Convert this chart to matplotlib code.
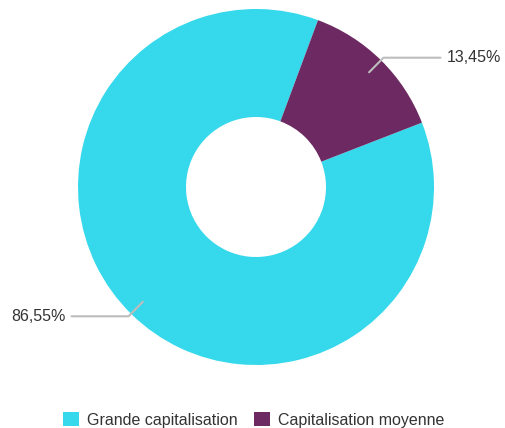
import numpy as np
import matplotlib
matplotlib.use("Agg")
import matplotlib.pyplot as plt
from matplotlib.patches import Patch

categories = ["Grande capitalisation", "Capitalisation moyenne"]
values = [86.55, 13.45]
labels = ["86,55%", "13,45%"]
colors = ["#36D8EB", "#6D2961"]

W, H = 506, 428
fig = plt.figure(figsize=(W / 100, H / 100), dpi=100)
ax = fig.add_axes([0, 0, 1, 1])
ax.set_xlim(0, W)
ax.set_ylim(0, H)
ax.set_aspect("equal")
ax.axis("off")

cx, cy, R = 256, 428 - 187, 178
start = 90 - 68.8
wedges, _ = ax.pie(values, colors=colors, startangle=start, counterclock=False,
                   radius=R, center=(cx, cy), frame=True,
                   wedgeprops=dict(width=R - 70, edgecolor="none"))
ax.set_xlim(0, W)
ax.set_ylim(0, H)
ax.axis("off")

font = ["Liberation Sans", "DejaVu Sans"]
for w, lab in zip(wedges, labels):
    mid = np.deg2rad((w.theta1 + w.theta2) / 2)
    dx, dy = np.cos(mid), np.sin(mid)
    p0 = (cx + 0.905 * R * dx, cy + 0.905 * R * dy)
    p1 = (cx + 1.02 * R * dx, cy + 1.02 * R * dy)
    sgn = 1 if dx > 0 else -1
    p2 = (p1[0] + sgn * 57, p1[1])
    ax.plot([p0[0], p1[0], p2[0]], [p0[1], p1[1], p2[1]], color="#BDBDBD", lw=1.5,
            solid_capstyle="round", zorder=5)
    ax.text(p2[0] + sgn * 6, p2[1], lab, ha="left" if sgn > 0 else "right",
            va="center", fontsize=11.5, color="#333333", family=font)

handles = [Patch(facecolor=c, edgecolor="none") for c in colors]
fig.legend(handles, categories, loc="center", bbox_to_anchor=(0.501, 0.019),
           ncol=2, frameon=False, fontsize=11.5, handlelength=1.0, handleheight=1.0,
           handletextpad=0.5, columnspacing=1.0, borderpad=0,
           prop=dict(family=font, size=11.5))
for t in fig.legends[0].get_texts():
    t.set_color("#333333")

fig.savefig("out.png", dpi=100, facecolor="white")
